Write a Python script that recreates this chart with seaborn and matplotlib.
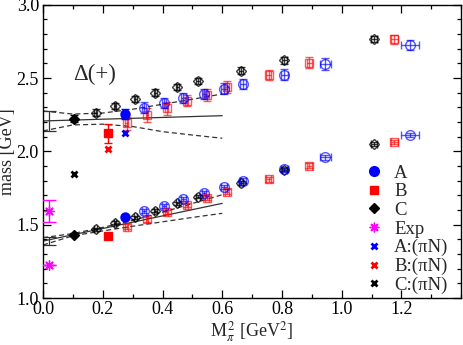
import numpy as np
import pandas as pd
import matplotlib
matplotlib.use("Agg")
import matplotlib.pyplot as plt
import seaborn as sns
from matplotlib.lines import Line2D

# ---------------- data ----------------
# open symbols (excited / ground Delta(+) levels)
A_open_x = [0.338, 0.405, 0.470, 0.539, 0.606, 0.671, 0.808, 0.945, 1.229]
A_open_xerr = [0.006, 0.006, 0.007, 0.008, 0.009, 0.010, 0.012, 0.019, 0.030]
A_up = [2.299, 2.329, 2.363, 2.392, 2.429, 2.458, 2.524, 2.595, 2.727]
A_up_err = [0.035, 0.035, 0.035, 0.035, 0.035, 0.035, 0.035, 0.040, 0.035]
A_lo = [1.594, 1.630, 1.674, 1.715, 1.756, 1.801, 1.878, 1.960, 2.113]
A_lo_err = [0.015, 0.015, 0.015, 0.015, 0.015, 0.015, 0.015, 0.015, 0.015]

B_open_x = [0.280, 0.349, 0.414, 0.481, 0.548, 0.615, 0.755, 0.892, 1.176]
B_open_xerr = [0.004, 0.004, 0.005, 0.005, 0.006, 0.006, 0.007, 0.008, 0.012]
B_up = [2.192, 2.249, 2.295, 2.347, 2.386, 2.438, 2.522, 2.606, 2.766]
B_up_err = [0.045, 0.045, 0.045, 0.040, 0.040, 0.040, 0.035, 0.035, 0.030]
B_lo = [1.487, 1.537, 1.587, 1.633, 1.681, 1.726, 1.810, 1.903, 2.063]
B_lo_err = [0.015, 0.015, 0.015, 0.015, 0.015, 0.015, 0.015, 0.015, 0.015]

C_open_x = [0.176, 0.241, 0.309, 0.375, 0.450, 0.519, 0.662, 0.808, 1.107]
C_open_xerr = [0.004, 0.004, 0.005, 0.005, 0.006, 0.006, 0.007, 0.008, 0.010]
C_up = [2.265, 2.311, 2.358, 2.401, 2.438, 2.479, 2.552, 2.622, 2.768]
C_up_err = [0.022, 0.022, 0.022, 0.022, 0.022, 0.022, 0.022, 0.025, 0.020]
C_lo = [1.469, 1.514, 1.550, 1.596, 1.646, 1.692, 1.785, 1.876, 2.051]
C_lo_err = [0.012, 0.012, 0.012, 0.012, 0.012, 0.012, 0.012, 0.012, 0.012]

# filled symbols (lightest mass)
A_x, A_y, A_err = 0.275, [2.256, 1.550], [0.036, 0.012]
B_x, B_y, B_err = 0.219, [2.124, 1.423], [0.065, 0.012]
C_x, C_y, C_err = 0.104, [2.224, 1.432], [0.025, 0.012]

# experiment
Exp_x = [0.0195, 0.0195]
Exp_y = [1.596, 1.223]
Exp_err = [0.075, 0.0]

# pi-N thresholds
piN_x = [0.275, 0.219, 0.104]
piN_y = [2.124, 2.015, 1.846]
piN_labels = ["A:(\u03c0N)", "B:(\u03c0N)", "C:(\u03c0N)"]

# chiral fits
fit_x = [0.0, 0.6]
fit_up_c = [2.208, 2.244]
fit_lo_c = [1.389, 1.646]
band_x = [0.0, 0.1, 0.2, 0.3, 0.4, 0.5, 0.6]
band_up_hi = [2.276, 2.255, 2.262, 2.288, 2.322, 2.356, 2.392]
band_up_lo = [2.140, 2.181, 2.186, 2.170, 2.135, 2.112, 2.090]
band_lo_hi = [1.412, 1.440, 1.482, 1.530, 1.585, 1.645, 1.705]
band_lo_lo = [1.362, 1.425, 1.458, 1.490, 1.520, 1.550, 1.578]
phys_x = 0.0195
fit_phys_y = [2.208, 1.389]
fit_phys_err = [0.068, 0.025]

# ---------------- style ----------------
sns.set_theme(style="ticks")
plt.rcParams["font.family"] = ["Liberation Serif", "DejaVu Serif"]
plt.rcParams["mathtext.fontset"] = "stix"

fig = plt.figure(figsize=(4.63, 3.45), dpi=100)
ax = fig.add_axes([0.093, 0.136, 0.903, 0.850])

blue = "#0000ff"
red = "#ff0000"

# fit lines
for c in (fit_up_c, fit_lo_c):
    sns.lineplot(x=fit_x, y=c, ax=ax, color="#333333", lw=0.9, zorder=2)
for b in (band_up_hi, band_up_lo, band_lo_hi, band_lo_lo):
    sns.lineplot(x=band_x, y=b, ax=ax, color="#333333", lw=0.9,
                 linestyle=(0, (4, 2.5)), zorder=2)
ax.errorbar([phys_x, phys_x], fit_phys_y, yerr=fit_phys_err, fmt="none",
            ecolor="#333333", elinewidth=0.9, capsize=5, capthick=0.9, zorder=2)

# open symbols
def open_series(x, xe, y, ye, color, marker, ms, alpha):
    ax.errorbar(x, y, xerr=xe, yerr=ye, fmt=marker, mfc="none", mec=color,
                ecolor=color, ms=ms, mew=1.0, elinewidth=1.0, capsize=3,
                capthick=1.0, alpha=alpha, zorder=3)

for y, ye in ((C_up, C_up_err), (C_lo, C_lo_err)):
    open_series(C_open_x, C_open_xerr, y, ye, "black", "D", 4.8, 0.75)
for y, ye in ((B_up, B_up_err), (B_lo, B_lo_err)):
    open_series(B_open_x, B_open_xerr, y, ye, red, "s", 6, 0.65)
for y, ye in ((A_up, A_up_err), (A_lo, A_lo_err)):
    open_series(A_open_x, A_open_xerr, y, ye, blue, "o", 7, 0.65)

# filled symbols
ax.errorbar([A_x, A_x], A_y, yerr=A_err, fmt="o", color=blue, ms=6.5,
            capsize=3, elinewidth=1.0, zorder=4)
ax.errorbar([B_x, B_x], B_y, yerr=B_err, fmt="s", color=red, ms=5.8,
            capsize=3, elinewidth=1.0, zorder=4)
ax.errorbar([C_x, C_x], C_y, yerr=C_err, fmt="D", color="black", ms=5,
            capsize=3, elinewidth=1.0, zorder=4)
star = (8, 2, 0)
ax.errorbar(Exp_x, Exp_y, yerr=Exp_err, fmt="none", ecolor="#ff00ff",
            capsize=5, elinewidth=1.0, zorder=4)
sns.scatterplot(x=Exp_x, y=Exp_y, ax=ax, marker=star, color="#ff00ff",
                s=45, linewidth=1.0, edgecolor="#ff00ff", zorder=5)
for xx, yy, cc in zip(piN_x, piN_y, [blue, red, "black"]):
    ax.plot([xx], [yy], marker="x", color=cc, ms=5, mew=2.0, ls="none", zorder=5)

# text
ax.text(0.10, 2.49, "\u0394(+)", fontsize=16.5, ha="left", va="baseline")

# axes
ax.set_xlim(0, 1.4)
ax.set_ylim(1.0, 3.0)
ax.set_xticks(np.arange(0, 1.21, 0.2))
ax.set_xticks(np.arange(0, 1.41, 0.1), minor=True)
ax.set_yticks(np.arange(1.0, 3.01, 0.5))
ax.set_yticks(np.arange(1.0, 3.01, 0.1), minor=True)
ax.xaxis.set_major_formatter(matplotlib.ticker.FormatStrFormatter("%.1f"))
ax.yaxis.set_major_formatter(matplotlib.ticker.FormatStrFormatter("%.1f"))
ax.tick_params(which="both", direction="in", top=True, right=True,
               labelsize=13, width=0.9, colors="black")
ax.tick_params(axis="x", pad=2)
ax.tick_params(axis="y", pad=3)
ax.tick_params(which="major", length=6)
ax.tick_params(which="minor", length=3)
for s in ax.spines.values():
    s.set_linewidth(1.0)
    s.set_color("black")
ax.set_xlabel(r"M$_{\pi}^{\,2}$ [GeV$^2$]", fontsize=13, labelpad=1)
ax.set_ylabel("mass [GeV]", fontsize=13)
ax.yaxis.set_label_coords(-0.064, 0.5)

# legend
handles = [
    Line2D([], [], marker="o", color=blue, ls="none", ms=7),
    Line2D([], [], marker="s", color=red, ls="none", ms=6),
    Line2D([], [], marker="D", color="black", ls="none", ms=5),
    Line2D([], [], marker=star, color="#ff00ff", ls="none", ms=7, mew=1.0),
    Line2D([], [], marker="x", color=blue, ls="none", ms=5, mew=2.0),
    Line2D([], [], marker="x", color=red, ls="none", ms=5, mew=2.0),
    Line2D([], [], marker="x", color="black", ls="none", ms=5, mew=2.0),
]
labels = ["A", "B", "C", "Exp"] + piN_labels
ax.legend(handles, labels, loc="upper left", bbox_to_anchor=(0.77, 0.455),
          frameon=False, fontsize=13.5, handlelength=1.0, handletextpad=0.55,
          labelspacing=0.08, borderaxespad=0, borderpad=0)

fig.savefig("out.png", dpi=100)
